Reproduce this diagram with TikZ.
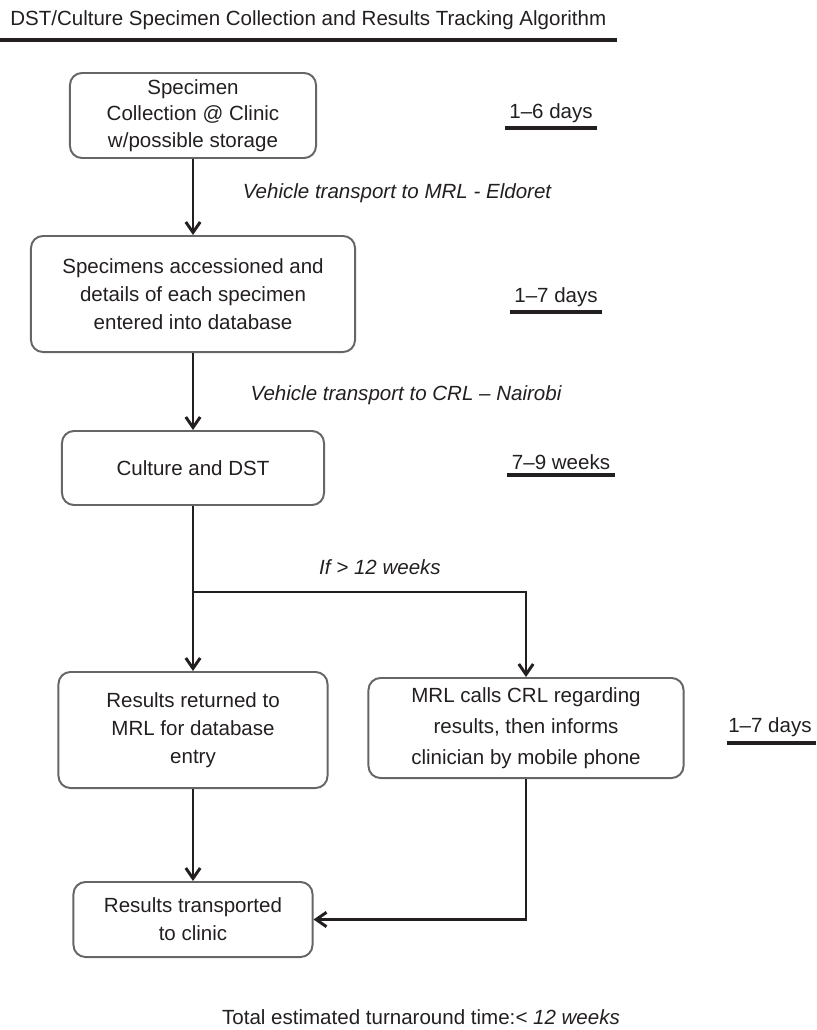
\documentclass[tikz,border=0pt]{standalone}
\usepackage{fontspec}
\setmainfont{Liberation Sans}
\usetikzlibrary{arrows.meta}

\definecolor{inkdark}{HTML}{231F20}
\definecolor{boxgray}{HTML}{666666}

\tikzset{
  stepbox/.style={draw=boxgray, line width=1.4pt, rounded corners=0.3cm,
    align=center, text=inkdark, inner sep=0pt},
  arr/.style={draw=inkdark, line width=2.1pt,
    -{Straight Barb[length=2.6mm,width=3.6mm,line width=2.1pt]}},
  link/.style={draw=inkdark, line width=2.1pt},
  lbl/.style={text=inkdark, font=\fontsize{14.6}{20}\selectfont\itshape},
  dur/.style={text=inkdark, inner sep=0pt},
  uline/.style={draw=inkdark, line width=2.2pt},
}

\begin{document}
\begin{tikzpicture}[x=0.025cm, y=-0.025cm,
  every node/.append style={font=\fontsize{14.6}{20}\selectfont}]

  \useasboundingbox (0,0) rectangle (816,1030);

  % title
  \node[anchor=west, text=inkdark, inner sep=0pt] (title) at (10,20)
    {DST/Culture Specimen Collection and Results Tracking Algorithm};
  \draw[uline, line width=2.4pt] (0,40) -- (617,40);

  % collection at clinic
  \node[stepbox, minimum width=6.15cm, minimum height=2.125cm,
    font=\fontsize{14.6}{19}\selectfont] (collect) at (193,115.5)
    {Specimen\\Collection @ Clinic\\w/possible storage};
  \node[dur] (d1) at (551,113) {1--6 days};
  \draw[uline] (505,128) -- (597,128);

  % transport to MRL
  \node[lbl] (toMRL) at (397,193) {Vehicle transport to MRL - Eldoret};

  % accessioning
  \node[stepbox, minimum width=8.1cm, minimum height=2.9cm] (accn) at (193,294)
    {Specimens accessioned and\\details of each specimen\\entered into database};
  \node[dur] (d2) at (556,297) {1--7 days};
  \draw[uline] (510,312) -- (602,312);

  % transport to CRL
  \node[lbl] (toCRL) at (406,395) {Vehicle transport to CRL -- Nairobi};

  % culture
  \node[stepbox, minimum width=6.55cm, minimum height=1.85cm] (culture) at (193,468)
    {Culture and DST};
  \node[dur] (d3) at (561,462) {7--9 weeks};
  \draw[uline] (507,475) -- (615,475);

  % branch
  \coordinate (split) at (193,592);
  \node[lbl] (late) at (380,567) {If > 12 weeks};

  % results back to MRL
  \node[stepbox, minimum width=6.725cm, minimum height=2.9cm] (back) at (193,730)
    {Results returned to\\MRL for database\\entry};

  % MRL calls CRL
  \node[stepbox, minimum width=7.875cm, minimum height=2.5cm,
    font=\fontsize{14.6}{22}\selectfont] (call) at (526,728)
    {MRL calls CRL regarding\\results, then informs\\clinician by mobile phone};
  \node[dur, anchor=west] (d4) at (728,727) {1--7 days};
  \draw[uline] (727,743) -- (816,743);

  % transport to clinic
  \node[stepbox, minimum width=5.975cm, minimum height=1.875cm] (clinic) at (193,919.5)
    {Results transported\\to clinic};

  % total
  \node[text=inkdark] (total) at (421,1017)
    {Total estimated turnaround time:\textit{< 12 weeks}};

  % connectors
  \draw[arr] (collect) -- (accn);
  \draw[arr] (accn) -- (culture);
  \draw[link] (culture) -- (split);
  \draw[arr] (split) -- (back);
  \draw[arr] (split) -| (call);
  \draw[arr] (back) -- (clinic);
  \draw[arr] (call) |- (clinic);

\end{tikzpicture}
\end{document}
